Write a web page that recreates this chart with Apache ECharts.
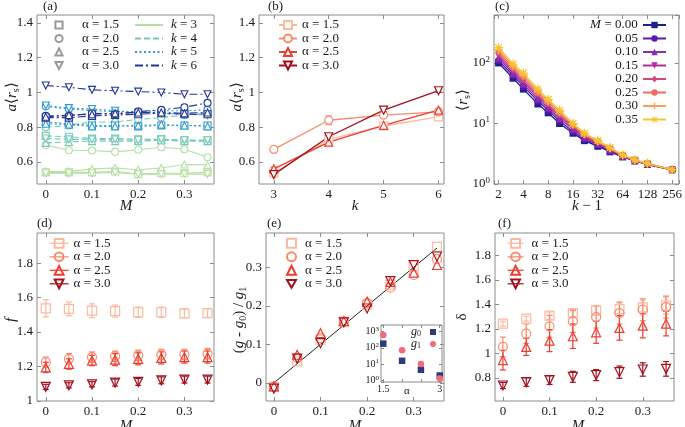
<!DOCTYPE html>
<html><head><meta charset="utf-8">
<script src="https://cdn.jsdelivr.net/npm/echarts@6/dist/echarts.min.js"></script>
<style>html,body{margin:0;padding:0;background:#fff}#c{width:685px;height:427px}</style>
</head><body><div id="c"></div>
<script>
// ---------------- DATA ----------------
const M_VALUES = [0, 0.05, 0.1, 0.15, 0.2, 0.25, 0.3, 0.35];
const ALPHA_LABELS = ['α = 1.5', 'α = 2.0', 'α = 2.5', 'α = 3.0'];
const K_LABELS = ['3', '4', '5', '6'];
const K_VALUES = [3, 4, 5, 6];
const M_TICKS = [0, 0.1, 0.2, 0.3];
const A_Y_TICKS = [0.6, 0.8, 1, 1.2, 1.4];
const D_Y_TICKS = [1, 1.2, 1.4, 1.6, 1.8];
const E_Y_TICKS = [0, 0.1, 0.2, 0.3];
const F_Y_TICKS = [0.8, 1, 1.2, 1.4, 1.6, 1.8];
const INSET_X_LABELS = [1.5, 3];
const INSET_X_TICKS = [1.5, 2, 2.5, 3];

// (a) a<r_s> vs M, for k = 3..6 and alpha = 1.5..3.0
const aK3A15 = [0.54, 0.54, 0.54, 0.545, 0.53, 0.535, 0.535, 0.54];
const aK3A20 = [0.697, 0.667, 0.666, 0.658, 0.67, 0.685, 0.673, 0.627];
const aK3A25 = [0.545, 0.545, 0.56, 0.565, 0.555, 0.565, 0.585, 0.583];
const aK3A30 = [0.535, 0.535, 0.535, 0.54, 0.53, 0.53, 0.53, 0.53];
const aK4A15 = [0.75, 0.745, 0.735, 0.735, 0.73, 0.73, 0.725, 0.725];
const aK4A20 = [0.80, 0.81, 0.83, 0.83, 0.845, 0.855, 0.87, 0.88];
const aK4A25 = [0.71, 0.715, 0.72, 0.72, 0.72, 0.725, 0.72, 0.72];
const aK4A30 = [0.735, 0.73, 0.73, 0.73, 0.725, 0.73, 0.725, 0.725];
const aK5A15 = [0.83, 0.82, 0.81, 0.81, 0.805, 0.81, 0.81, 0.81];
const aK5A20 = [0.92, 0.905, 0.895, 0.89, 0.89, 0.895, 0.895, 0.9];
const aK5A25 = [0.82, 0.815, 0.805, 0.805, 0.81, 0.815, 0.81, 0.805];
const aK5A30 = [0.925, 0.91, 0.905, 0.895, 0.885, 0.88, 0.875, 0.87];
const aK6A15 = [0.855, 0.855, 0.865, 0.87, 0.875, 0.88, 0.875, 0.875];
const aK6A20 = [0.865, 0.865, 0.88, 0.875, 0.89, 0.9, 0.915, 0.94];
const aK6A25 = [0.86, 0.87, 0.875, 0.88, 0.885, 0.885, 0.88, 0.885];
const aK6A30 = [1.04, 1.03, 1.015, 1.01, 1.005, 1.0, 0.99, 0.99];

// (b) a<r_s> vs k
const bA15 = [0.536, 0.73, 0.807, 0.859];
const bA20 = [0.672, 0.84, 0.87, 0.888];
const bA25 = [0.56, 0.714, 0.811, 0.898];
const bA30 = [0.527, 0.745, 0.898, 1.01];
const bErr15 = [0.01, 0.01, 0.01, 0.01];
const bErr20 = [0.012, 0.025, 0.015, 0.01];
const bErr25 = [0.01, 0.008, 0.008, 0.01];
const bErr30 = [0.01, 0.008, 0.008, 0.008];

// (c) <r_s> vs k-1
const C_X = [2, 3, 4, 6, 8, 11, 16, 22, 32, 45, 64, 90, 128, 256];
const C_M_LABELS = ['0.00', '0.05', '0.10', '0.15', '0.20', '0.25', '0.30', '0.35'];
const cM000 = [100, 56, 37, 21, 15, 10, 6.9, 5.2, 4.2, 3.4, 2.8, 2.4, 2.1, 1.72];
const cM005 = [110, 62, 41, 23.5, 16.5, 11, 7.4, 5.5, 4.4, 3.5, 2.85, 2.42, 2.12, 1.72];
const cM010 = [120, 67, 45, 25.5, 18, 12, 8, 5.8, 4.6, 3.6, 2.9, 2.44, 2.14, 1.72];
const cM015 = [130, 72, 49, 28, 19.5, 13, 8.5, 6.1, 4.75, 3.7, 2.93, 2.46, 2.15, 1.72];
const cM020 = [141, 77, 53, 30, 20.5, 13.8, 8.9, 6.3, 4.9, 3.8, 2.95, 2.47, 2.16, 1.72];
const cM025 = [153, 83, 58, 32, 22, 14.7, 9.3, 6.5, 5.0, 3.85, 2.97, 2.48, 2.17, 1.72];
const cM030 = [166, 89, 63, 34.5, 23.5, 15.6, 9.7, 6.7, 5.1, 3.9, 3.0, 2.5, 2.18, 1.72];
const cM035 = [180, 96, 68, 37, 25, 16.5, 10, 6.9, 5.2, 4.0, 3.02, 2.52, 2.2, 1.72];

// (d) f vs M
const dA15 = [1.538, 1.535, 1.524, 1.522, 1.515, 1.515, 1.509, 1.51];
const dA20 = [1.225, 1.245, 1.255, 1.26, 1.265, 1.27, 1.27, 1.275];
const dA25 = [1.195, 1.215, 1.235, 1.24, 1.245, 1.25, 1.255, 1.255];
const dA30 = [1.082, 1.091, 1.097, 1.107, 1.111, 1.12, 1.124, 1.124];
const dErr15 = [0.05, 0.04, 0.04, 0.035, 0.03, 0.03, 0.025, 0.025];
const dErr20 = [0.03, 0.03, 0.03, 0.03, 0.03, 0.03, 0.03, 0.03];
const dErr25 = [0.03, 0.03, 0.03, 0.035, 0.035, 0.035, 0.035, 0.035];
const dErr30 = [0.015, 0.015, 0.015, 0.02, 0.02, 0.02, 0.02, 0.02];

// (e) (g - g0)/g1 vs M
const eA15 = [-0.01, 0.056, 0.112, 0.159, 0.203, 0.255, 0.303, 0.353];
const eA20 = [-0.01, 0.065, 0.116, 0.158, 0.207, 0.247, 0.28, 0.321];
const eA25 = [-0.009, 0.073, 0.129, 0.16, 0.211, 0.262, 0.286, 0.306];
const eA30 = [-0.015, 0.063, 0.103, 0.157, 0.193, 0.264, 0.306, 0.328];
const E_LINE_X = [0, 0.35];
const E_LINE_Y = [0, 0.35];
// inset
const INSET_ALPHA = [1.5, 2.0, 2.5, 3.0];
const G0 = [180, 16, 4.5, 2];
const G1 = [600, 70, 10, 1.3];

// (f) delta vs M
const fA15 = [1.243, 1.284, 1.308, 1.33, 1.352, 1.362, 1.376, 1.39];
const fA20 = [1.053, 1.161, 1.221, 1.262, 1.297, 1.33, 1.357, 1.379];
const fA25 = [0.944, 1.053, 1.104, 1.14, 1.172, 1.208, 1.227, 1.243];
const fA30 = [0.737, 0.765, 0.781, 0.808, 0.822, 0.846, 0.868, 0.873];
const fErr15 = [0.02, 0.02, 0.03, 0.03, 0.04, 0.05, 0.06, 0.07];
const fErr20 = [0.08, 0.08, 0.09, 0.09, 0.09, 0.09, 0.09, 0.09];
const fErr25 = [0.08, 0.07, 0.09, 0.1, 0.09, 0.1, 0.1, 0.1];
const fErr30 = [0.025, 0.035, 0.035, 0.045, 0.045, 0.05, 0.055, 0.06];

// ---------------- STYLE ----------------
const FONT = '"Liberation Serif", "Times New Roman", serif';
const TXT = '#1a1a1a';
const FRAME = '#8c8c8c';
const INV_TRI = 'path://M0,0 L10,0 L5,8.66 Z';
const PLUS = 'path://M4,0 L6,0 L6,4 L10,4 L10,6 L6,6 L6,10 L4,10 L4,6 L0,6 L0,4 L4,4 Z';
const STAR = 'path://M4.3,0 L5.7,0 L5.7,3.3 L8.3,0.7 L9.3,1.7 L6.7,4.3 L10,4.3 L10,5.7 L6.7,5.7 L9.3,8.3 L8.3,9.3 L5.7,6.7 L5.7,10 L4.3,10 L4.3,6.7 L1.7,9.3 L0.7,8.3 L3.3,5.7 L0,5.7 L0,4.3 L3.3,4.3 L0.7,1.7 L1.7,0.7 L4.3,3.3 Z';
const ALPHA_SYMBOLS = ['rect', 'circle', 'triangle', INV_TRI];
const ALPHA_COLORS = ['#fbb9a0', '#fa8a6c', '#ec3d30', '#a3101c'];
const K_COLORS = ['#b5e0a2', '#74c9b6', '#2d9bcc', '#243795'];
const K_DASH = ['solid', [6, 3], [2, 2.5], [8, 3, 2, 3]];
const C_COLORS = ['#1f1f8f', '#5a1aa8', '#8a2cb5', '#b0309a', '#d34a78', '#ec6f62', '#f7a055', '#f9c22e'];
const C_SYMBOLS = ['rect', 'circle', 'triangle', INV_TRI, 'diamond', 'circle', PLUS, STAR];
const C_SIZES = [7, 7, 7, 7, 6, 6, 8, 9];

// ---------------- LAYOUT ----------------
const grids = [
  {left: 37, top: 15, width: 177, height: 169},
  {left: 259, top: 15, width: 185, height: 169},
  {left: 494, top: 15, width: 187, height: 169},
  {left: 37, top: 233, width: 177, height: 168},
  {left: 266, top: 233, width: 178, height: 168},
  {left: 495, top: 233, width: 179, height: 168},
  {left: 381, top: 325, width: 61, height: 57}
].map(g => Object.assign({show: true, borderColor: FRAME, borderWidth: 1, backgroundColor: '#fff'}, g));

function axisPair(dim, gi, c) {
  const isX = dim === 'x';
  const mkTick = () => {
    const t = {show: true, inside: true, length: c.tickLen || 4, lineStyle: {color: FRAME, width: 1}};
    if (c.ticks) t.customValues = c.ticks;
    if (c.type === 'log') t.interval = 0;
    return t;
  };
  const mkBase = () => {
    const b = {gridIndex: gi, type: c.type || 'value', min: c.min, max: c.max,
      axisLine: {show: false, onZero: false, onZeroAxisIndex: 99}, splitLine: {show: false}};
    if (c.logBase) b.logBase = c.logBase;
    return b;
  };
  const label = {show: true, margin: c.margin == null ? 4 : c.margin, color: TXT, fontFamily: FONT,
    fontSize: c.fs || 13, hideOverlap: false};
  if (c.labels) label.customValues = c.labels;
  if (c.fmt) label.formatter = c.fmt;
  if (c.rich) label.rich = c.rich;
  if (c.type === 'log') label.interval = 0;
  const main = Object.assign(mkBase(), {position: isX ? 'bottom' : 'left', axisTick: mkTick(), axisLabel: label});
  const mirror = Object.assign(mkBase(), {position: isX ? 'top' : 'right', axisTick: mkTick(), axisLabel: {show: false}});
  return [main, mirror];
}

const SUP_RICH = {
  b: {fontFamily: FONT, fontSize: 13, lineHeight: 16, color: TXT},
  s: {fontFamily: FONT, fontSize: 9, lineHeight: 9, verticalAlign: 'top', color: TXT}
};
const SUP_RICH_SMALL = {
  b: {fontFamily: FONT, fontSize: 10, lineHeight: 12, color: TXT},
  s: {fontFamily: FONT, fontSize: 7, lineHeight: 7, verticalAlign: 'top', color: TXT}
};
const pow10Fmt = v => {
  const e = Math.log10(v);
  return Math.abs(e - Math.round(e)) < 1e-6 ? '{b|10}{s|' + Math.round(e) + '}' : '';
};
const pow2Fmt = v => {
  const e = Math.log2(v);
  return Math.abs(e - Math.round(e)) < 1e-6 ? String(Math.round(v)) : '';
};

const xAxes = [], yAxes = [];
const MX = {min: -0.019, max: 0.364, ticks: M_TICKS, labels: M_TICKS};
xAxes.push(...axisPair('x', 0, MX));
yAxes.push(...axisPair('y', 0, {min: 0.473, max: 1.446, ticks: A_Y_TICKS, labels: A_Y_TICKS}));
xAxes.push(...axisPair('x', 1, {min: 2.73, max: 6.1, ticks: K_VALUES, labels: K_VALUES}));
yAxes.push(...axisPair('y', 1, {min: 0.473, max: 1.446, ticks: A_Y_TICKS, labels: A_Y_TICKS}));
xAxes.push(...axisPair('x', 2, {type: 'log', logBase: 2, min: 1.76, max: 308, fmt: pow2Fmt}));
yAxes.push(...axisPair('y', 2, {type: 'log', logBase: 10, min: 1, max: 620, fmt: pow10Fmt, rich: SUP_RICH}));
xAxes.push(...axisPair('x', 3, MX));
yAxes.push(...axisPair('y', 3, {min: 1, max: 1.975, ticks: D_Y_TICKS, labels: D_Y_TICKS}));
xAxes.push(...axisPair('x', 4, {min: -0.017, max: 0.365, ticks: M_TICKS, labels: M_TICKS}));
yAxes.push(...axisPair('y', 4, {min: -0.047, max: 0.389, ticks: E_Y_TICKS, labels: E_Y_TICKS}));
xAxes.push(...axisPair('x', 5, {min: -0.017, max: 0.367, ticks: M_TICKS, labels: M_TICKS}));
yAxes.push(...axisPair('y', 5, {min: 0.61, max: 1.985, ticks: F_Y_TICKS, labels: F_Y_TICKS}));
xAxes.push(...axisPair('x', 6, {min: 1.44, max: 3.06, ticks: INSET_X_TICKS, labels: INSET_X_LABELS, fs: 10, margin: 2, tickLen: 3}));
yAxes.push(...axisPair('y', 6, {type: 'log', logBase: 10, min: 0.8, max: 2500, fmt: pow10Fmt, rich: SUP_RICH_SMALL, fs: 10, margin: 2, tickLen: 3}));

// ---------------- SERIES ----------------
const series = [];
const pts = (xs, ys) => xs.map((x, i) => [x, ys[i]]);
function errBars(gi, xs, ys, es, color) {
  return {
    type: 'custom', xAxisIndex: 2 * gi, yAxisIndex: 2 * gi, silent: true, z: 3,
    data: xs.map((x, i) => [x, ys[i] - es[i], ys[i] + es[i]]),
    encode: {x: 0, y: [1, 2]},
    renderItem(params, api) {
      const x = api.value(0);
      const lo = api.coord([x, api.value(1)]);
      const hi = api.coord([x, api.value(2)]);
      const w = 3, st = {stroke: color, lineWidth: 1.2};
      return {type: 'group', children: [
        {type: 'line', shape: {x1: lo[0], y1: lo[1], x2: hi[0], y2: hi[1]}, style: st},
        {type: 'line', shape: {x1: lo[0] - w, y1: lo[1], x2: lo[0] + w, y2: lo[1]}, style: st},
        {type: 'line', shape: {x1: hi[0] - w, y1: hi[1], x2: hi[0] + w, y2: hi[1]}, style: st}
      ]};
    }
  };
}

// (a)
const A_DATA = [[aK3A15, aK3A20, aK3A25, aK3A30], [aK4A15, aK4A20, aK4A25, aK4A30],
                [aK5A15, aK5A20, aK5A25, aK5A30], [aK6A15, aK6A20, aK6A25, aK6A30]];
A_DATA.forEach((row, k) => row.forEach((arr, a) => {
  series.push({type: 'line', name: 'a-data', xAxisIndex: 0, yAxisIndex: 0, data: pts(M_VALUES, arr),
    symbol: ALPHA_SYMBOLS[a], symbolSize: 7, z: 2 + k,
    itemStyle: {color: '#fff', borderColor: K_COLORS[k], borderWidth: 1.1},
    lineStyle: {color: K_COLORS[k], width: 1.1, type: K_DASH[k]}});
}));
ALPHA_LABELS.forEach((lab, a) => series.push({type: 'line', name: 'a|' + lab, xAxisIndex: 0, yAxisIndex: 0, data: [],
  symbol: ALPHA_SYMBOLS[a], itemStyle: {color: '#fff', borderColor: '#9a9a9a', borderWidth: 1.1},
  lineStyle: {width: 0, color: '#9a9a9a'}}));
K_LABELS.forEach((lab, k) => series.push({type: 'line', name: 'a|k = ' + lab, xAxisIndex: 0, yAxisIndex: 0, data: [],
  symbol: 'none', itemStyle: {color: K_COLORS[k], opacity: 0},
  lineStyle: {color: K_COLORS[k], width: 1.2, type: K_DASH[k]}}));

// (b)
[[bA15, bErr15], [bA20, bErr20], [bA25, bErr25], [bA30, bErr30]].forEach(([ys, es], a) => {
  series.push(errBars(1, K_VALUES, ys, es, ALPHA_COLORS[a]));
  series.push({type: 'line', name: 'b|' + ALPHA_LABELS[a], xAxisIndex: 2, yAxisIndex: 2, data: pts(K_VALUES, ys),
    symbol: ALPHA_SYMBOLS[a], symbolSize: 8, z: 4,
    itemStyle: {color: '#fff', borderColor: ALPHA_COLORS[a], borderWidth: 1.2},
    lineStyle: {color: ALPHA_COLORS[a], width: 1.3}});
});

// (c)
[cM000, cM005, cM010, cM015, cM020, cM025, cM030, cM035].forEach((ys, i) => {
  series.push({type: 'line', name: 'c|' + C_M_LABELS[i], xAxisIndex: 4, yAxisIndex: 4, data: pts(C_X, ys),
    symbol: C_SYMBOLS[i], symbolSize: C_SIZES[i], z: 2 + i,
    itemStyle: {color: C_COLORS[i]}, lineStyle: {color: C_COLORS[i], width: 1.3}});
});

// (d)
[[dA15, dErr15], [dA20, dErr20], [dA25, dErr25], [dA30, dErr30]].forEach(([ys, es], a) => {
  series.push(errBars(3, M_VALUES, ys, es, ALPHA_COLORS[a]));
  series.push({type: 'line', name: 'd|' + ALPHA_LABELS[a], xAxisIndex: 6, yAxisIndex: 6, data: pts(M_VALUES, ys),
    symbol: ALPHA_SYMBOLS[a], symbolSize: 9, z: 4,
    itemStyle: {color: 'rgba(255,255,255,0)', borderColor: ALPHA_COLORS[a], borderWidth: 1.2},
    lineStyle: {color: ALPHA_COLORS[a], width: 0}});
});

// (e)
series.push({type: 'line', name: 'e-line', xAxisIndex: 8, yAxisIndex: 8, data: pts(E_LINE_X, E_LINE_Y),
  symbol: 'none', lineStyle: {color: '#222', width: 1}, z: 2});
[eA15, eA20, eA25, eA30].forEach((ys, a) => {
  series.push({type: 'scatter', name: 'e|' + ALPHA_LABELS[a], xAxisIndex: 8, yAxisIndex: 8, data: pts(M_VALUES, ys),
    symbol: ALPHA_SYMBOLS[a], symbolSize: 9, z: 4,
    itemStyle: {color: 'rgba(255,255,255,0)', borderColor: ALPHA_COLORS[a], borderWidth: 1.2, opacity: 1}});
});
series.push({type: 'scatter', name: 'i|g0', xAxisIndex: 12, yAxisIndex: 12, data: pts(INSET_ALPHA, G0),
  symbol: 'rect', symbolSize: 6.5, itemStyle: {color: '#2d3c78', opacity: 1}, z: 6});
series.push({type: 'scatter', name: 'i|g1', xAxisIndex: 12, yAxisIndex: 12, data: pts(INSET_ALPHA, G1),
  symbol: 'circle', symbolSize: 6.5, itemStyle: {color: '#f26b7b', opacity: 1}, z: 6});

// (f)
[[fA15, fErr15], [fA20, fErr20], [fA25, fErr25], [fA30, fErr30]].forEach(([ys, es], a) => {
  series.push(errBars(5, M_VALUES, ys, es, ALPHA_COLORS[a]));
  series.push({type: 'line', name: 'f|' + ALPHA_LABELS[a], xAxisIndex: 10, yAxisIndex: 10, data: pts(M_VALUES, ys),
    symbol: ALPHA_SYMBOLS[a], symbolSize: 9, z: 4,
    itemStyle: {color: 'rgba(255,255,255,0)', borderColor: ALPHA_COLORS[a], borderWidth: 1.2},
    lineStyle: {color: ALPHA_COLORS[a], width: 0}});
});

// ---------------- LEGENDS ----------------
const strip = n => n.split('|')[1];
const legTxt = (extra) => Object.assign({fontFamily: FONT, fontSize: 13, color: TXT, lineHeight: 13}, extra || {});
function legend(prefix, names, cfg) {
  return Object.assign({orient: 'vertical', selectedMode: false, itemGap: 0.5, padding: 0,
    data: names.map(n => prefix + '|' + n), formatter: strip, textStyle: legTxt()}, cfg);
}
const legends = [
  legend('a', ALPHA_LABELS, {left: 45, top: 18.5, itemWidth: 28, itemHeight: 9, textStyle: legTxt({padding: [0, 0, 0, 4]})}),
  legend('a', K_LABELS.map(k => 'k = ' + k), {left: 134, top: 18.5, itemWidth: 28, itemHeight: 9,
    formatter: n => '{i|k}' + strip(n).slice(1),
    textStyle: legTxt({padding: [0, 0, 0, 3], rich: {i: {fontStyle: 'italic', fontFamily: FONT, fontSize: 13, lineHeight: 13, color: TXT}}})}),
  legend('b', ALPHA_LABELS, {left: 278, top: 18.5, itemWidth: 18, itemHeight: 10}),
  legend('c', C_M_LABELS, {left: 590, top: 18.5, itemWidth: 23, itemHeight: 8, align: 'right',
    formatter: n => strip(n) === '0.00' ? '{m|M}{t| = 0.00}' : '{r|' + strip(n) + '}',
    textStyle: legTxt({rich: {
      m: {fontStyle: 'italic', width: 11, align: 'right', fontFamily: FONT, fontSize: 13, lineHeight: 13, color: TXT},
      t: {width: 37, align: 'left', fontFamily: FONT, fontSize: 13, lineHeight: 13, color: TXT},
      r: {width: 48, align: 'right', fontFamily: FONT, fontSize: 13, lineHeight: 13, color: TXT}}})}),
  legend('d', ALPHA_LABELS, {left: 49, top: 236.8, itemWidth: 19, itemHeight: 11, lineStyle: {width: 1.2}}),
  legend('e', ALPHA_LABELS, {left: 286, top: 236.8, itemWidth: 9, itemHeight: 9, textStyle: legTxt({padding: [0, 0, 0, 4]})}),
  legend('f', ALPHA_LABELS, {left: 507, top: 236.8, itemWidth: 16, itemHeight: 11, lineStyle: {width: 1.2}, textStyle: legTxt({padding: [0, 0, 0, 3]})}),
  legend('i', ['g0', 'g1'], {left: 411, top: 326, itemWidth: 6, itemHeight: 6, align: 'right', itemGap: 0,
    formatter: n => '{i|g}{s|' + strip(n).slice(1) + '}',
    textStyle: legTxt({fontSize: 11, lineHeight: 10, padding: [0, 4, 0, 0], rich: {
      i: {fontStyle: 'italic', fontFamily: FONT, fontSize: 12, lineHeight: 11, color: TXT},
      s: {fontFamily: FONT, fontSize: 8, lineHeight: 7, verticalAlign: 'bottom', color: TXT}}})})
];

// ---------------- TITLES & AXIS NAMES ----------------
const T = (text, left, top) => ({text, left, top, padding: 0,
  textStyle: {fontFamily: FONT, fontSize: 13, fontWeight: 'normal', color: TXT, lineHeight: 13}});
const titles = [T('(a)', 43, 0), T('(b)', 268, 0), T('(c)', 495, 0), T('(d)', 37, 217), T('(e)', 267, 217), T('(f)', 498, 217)];

const NAME_RICH = {
  i: {fontStyle: 'italic', fontFamily: FONT, fontSize: 15, lineHeight: 18, fill: TXT},
  sub: {fontFamily: FONT, fontSize: 10, lineHeight: 10, verticalAlign: 'bottom', fill: TXT}
};
const axName = (text, x, y, rot, size) => ({type: 'text', x, y, rotation: rot ? Math.PI / 2 : 0, silent: true, z: 10,
  style: {text, fontFamily: FONT, fontSize: size || 15, lineHeight: 18, fill: TXT,
    align: 'center', verticalAlign: 'middle', textAlign: 'center', textVerticalAlign: 'middle', rich: NAME_RICH}});
const graphics = [
  axName('{i|M}', 126, 206.5), axName('{i|k}', 355, 206.5), axName('{i|k} − 1', 587, 206.5),
  axName('{i|M}', 126, 426), axName('{i|M}', 355, 426), axName('{i|M}', 578, 426),
  axName('{i|a}⟨{i|r}{sub|s}⟩', 12, 97, true), axName('{i|a}⟨{i|r}{sub|s}⟩', 237, 97, true),
  axName('⟨{i|r}{sub|s}⟩', 463, 100, true), axName('{i|f}', 11, 320, true),
  axName('({i|g} - {i|g}{sub|0}) / {i|g}{sub|1}', 239, 320, true), axName('δ', 462, 317, true),
  axName('α', 407, 391, false, 11)
];

const option = {
  animation: false, backgroundColor: '#fff',
  title: titles, grid: grids, xAxis: xAxes, yAxis: yAxes, legend: legends, series,
  graphic: {elements: graphics}
};
const chart = echarts.init(document.getElementById('c'));
chart.setOption(option);
</script></body></html>
